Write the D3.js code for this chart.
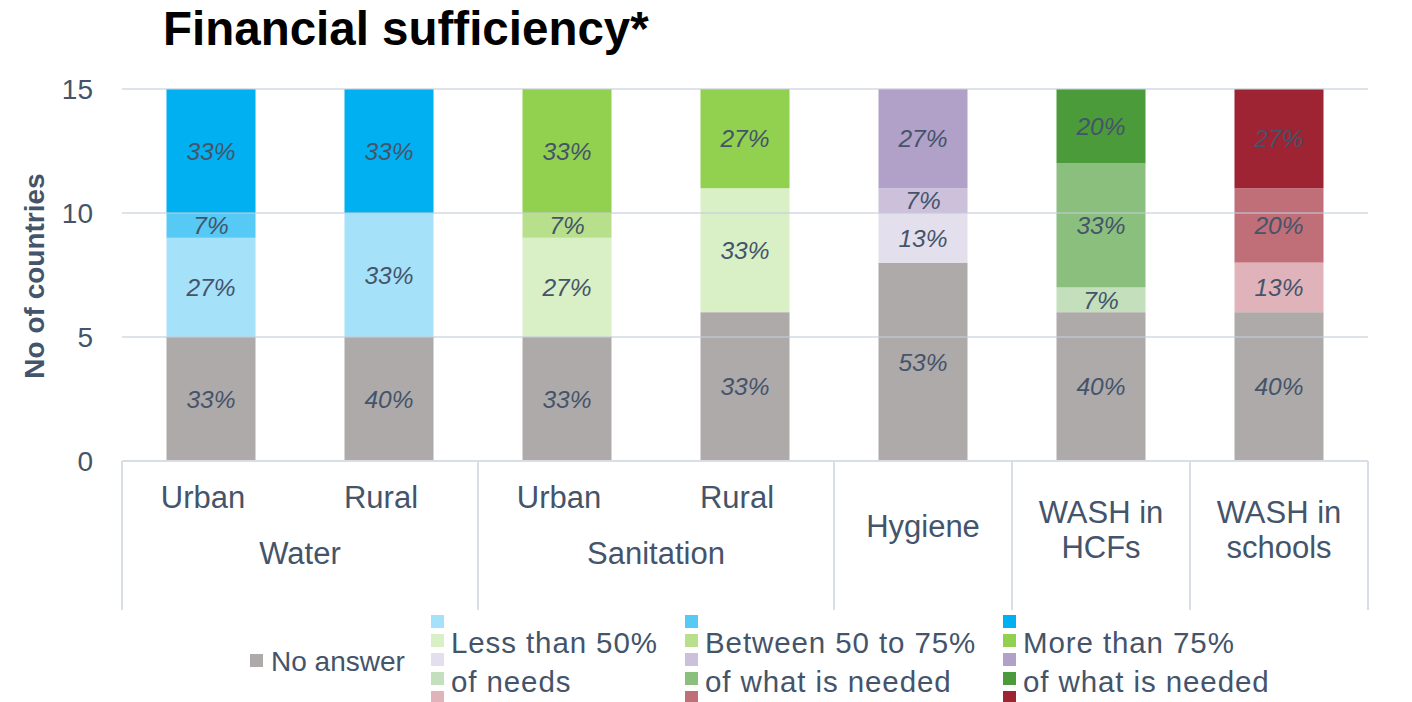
<!DOCTYPE html>
<html>
<head>
<meta charset="utf-8">
<script src="https://cdn.jsdelivr.net/npm/d3@7"></script>
<style>
  html, body { margin: 0; padding: 0; background: #ffffff; }
  svg { display: block; font-family: "Liberation Sans", Arial, sans-serif; }
</style>
</head>
<body>
<svg id="chart" width="1412" height="702"></svg>
<script>
// ---- data ----
const subCategories = ["Urban", "Rural", "Urban", "Rural", "Hygiene", "WASH in HCFs", "WASH in schools"];
const categoryLines = [["Urban"], ["Rural"], ["Urban"], ["Rural"], ["Hygiene"], ["WASH in", "HCFs"], ["WASH in", "schools"]];
const groupLabels = [{ name: "Water", from: 0, to: 1 }, { name: "Sanitation", from: 2, to: 3 }];
const separators = [0, 2, 4, 5, 6, 7];

const noAnswer      = [5, 5, 5, 6, 8, 6, 6];
const lessThan50    = [4, 5, 4, 5, 2, 1, 2];
const between50to75 = [1, 0, 1, 0, 1, 5, 3];
const moreThan75    = [5, 5, 5, 4, 4, 3, 4];

const noAnswerPct   = ["33%", "40%", "33%", "33%", "53%", "40%", "40%"];
const lessPct       = ["27%", "33%", "27%", "33%", "13%", "7%", "13%"];
const betweenPct    = ["7%", "", "7%", "", "7%", "33%", "20%"];
const morePct       = ["33%", "33%", "33%", "27%", "27%", "20%", "27%"];

const yTicks = [0, 5, 10, 15];

const noAnswerColor = "#aeaaaa";
const lessColors    = ["#a6e1fa", "#a6e1fa", "#d9efc5", "#d9efc5", "#e4dfec", "#c3dfbc", "#dfb3b9"];
const betweenColors = ["#56c9f5", "#56c9f5", "#b8e08c", "#b8e08c", "#ccc0da", "#8bbf7e", "#c06e77"];
const moreColors    = ["#00b0f0", "#00b0f0", "#92d050", "#92d050", "#b1a0c7", "#4c9b3a", "#9e2333"];
const legendLess    = ["#a6e1fa", "#d9efc5", "#e4dfec", "#c3dfbc", "#dfb3b9"];
const legendBetween = ["#56c9f5", "#b8e08c", "#ccc0da", "#8bbf7e", "#c06e77"];
const legendMore    = ["#00b0f0", "#92d050", "#b1a0c7", "#4c9b3a", "#9e2333"];

// ---- layout ----
const textColor = "#44546a";
const gridColor = "#d9dee5";
const svg = d3.select("#chart");

const x = d3.scaleBand().domain(d3.range(subCategories.length)).range([122, 1368]).paddingInner(0.5).paddingOuter(0.25);
const y = d3.scaleLinear().domain([0, 15]).range([461, 89]);
const step = x.step();
const edge = i => 122 + i * step;

// title
svg.append("text").attr("x", 163).attr("y", 45)
  .attr("font-size", 47.5).attr("font-weight", "bold").attr("fill", "#000")
  .text("Financial sufficiency*");

// y axis title
svg.append("text")
  .attr("transform", "translate(44,276) rotate(-90)")
  .attr("text-anchor", "middle")
  .attr("font-size", 28).attr("font-weight", "bold").attr("fill", textColor)
  .text("No of countries");

// y tick labels
svg.append("g").selectAll("text").data(yTicks).join("text")
  .attr("x", 93).attr("y", d => y(d)).attr("dy", "0.36em")
  .attr("text-anchor", "end").attr("font-size", 28).attr("fill", textColor)
  .text(d => d);

// stacked bars
const layers = [
  { vals: noAnswer, colors: subCategories.map(() => noAnswerColor), labels: noAnswerPct },
  { vals: lessThan50, colors: lessColors, labels: lessPct },
  { vals: between50to75, colors: betweenColors, labels: betweenPct },
  { vals: moreThan75, colors: moreColors, labels: morePct }
];
const segs = [];
subCategories.forEach((c, i) => {
  let base = 0;
  layers.forEach(l => {
    const v = l.vals[i];
    if (v > 0) segs.push({ i, y0: base, y1: base + v, color: l.colors[i], label: l.labels[i] });
    base += v;
  });
});

svg.append("g").selectAll("rect").data(segs).join("rect")
  .attr("x", d => x(d.i)).attr("width", x.bandwidth())
  .attr("y", d => y(d.y1)).attr("height", d => y(d.y0) - y(d.y1))
  .attr("fill", d => d.color);

// gridlines (drawn semi-transparent over bars)
svg.append("g").selectAll("line").data(yTicks.filter(t => t > 0)).join("line")
  .attr("x1", 122).attr("x2", 1368).attr("y1", d => y(d)).attr("y2", d => y(d))
  .attr("stroke", "#c3ccd8").attr("stroke-opacity", 0.55).attr("stroke-width", 2);

// segment labels
svg.append("g").selectAll("text").data(segs.filter(d => d.label)).join("text")
  .attr("x", d => x(d.i) + x.bandwidth() / 2)
  .attr("y", d => (y(d.y0) + y(d.y1)) / 2).attr("dy", "0.36em")
  .attr("text-anchor", "middle").attr("font-size", 24.5).attr("font-style", "italic")
  .attr("fill", textColor).text(d => d.label);

// category axis
svg.append("line").attr("x1", 122).attr("x2", 1368).attr("y1", y(0)).attr("y2", y(0))
  .attr("stroke", gridColor).attr("stroke-width", 2);
svg.append("g").selectAll("line").data(separators).join("line")
  .attr("x1", d => edge(d)).attr("x2", d => edge(d)).attr("y1", y(0)).attr("y2", 610)
  .attr("stroke", gridColor).attr("stroke-width", 2);

// sub category labels
categoryLines.forEach((lines, i) => {
  let cx = x(i) + x.bandwidth() / 2;
  let ys;
  if (i < 4) { ys = [497]; cx -= 8; }
  else if (lines.length === 1) ys = [526];
  else ys = [512, 547];
  lines.forEach((t, k) => {
    svg.append("text").attr("x", cx).attr("y", ys[k]).attr("dy", "0.36em")
      .attr("text-anchor", "middle").attr("font-size", 31).attr("fill", textColor).text(t);
  });
});
groupLabels.forEach(g => {
  const cx = (edge(g.from) + edge(g.to + 1)) / 2;
  svg.append("text").attr("x", cx).attr("y", 553).attr("dy", "0.36em")
    .attr("text-anchor", "middle").attr("font-size", 31).attr("fill", textColor).text(g.name);
});

// legend
const lg = svg.append("g");
lg.append("rect").attr("x", 250).attr("y", 654).attr("width", 13).attr("height", 13).attr("fill", noAnswerColor);
lg.append("text").attr("x", 271).attr("y", 661).attr("dy", "0.36em").attr("font-size", 28).attr("fill", textColor).text("No answer");

const legendCols = [
  { sx: 431, tx: 451, colors: legendLess, lines: ["Less than 50%", "of needs"] },
  { sx: 685, tx: 705, colors: legendBetween, lines: ["Between 50 to 75%", "of what is needed"] },
  { sx: 1003, tx: 1023, colors: legendMore, lines: ["More than 75%", "of what is needed"] }
];
legendCols.forEach(col => {
  lg.selectAll(null).data(col.colors).join("rect")
    .attr("x", col.sx).attr("y", (d, k) => 615 + k * 19)
    .attr("width", 13).attr("height", 13).attr("fill", d => d);
  col.lines.forEach((t, k) => {
    lg.append("text").attr("x", col.tx).attr("y", 642 + k * 39).attr("dy", "0.36em")
      .attr("font-size", 29.5).attr("letter-spacing", 0.9).attr("fill", textColor).text(t);
  });
});
</script>
</body>
</html>
